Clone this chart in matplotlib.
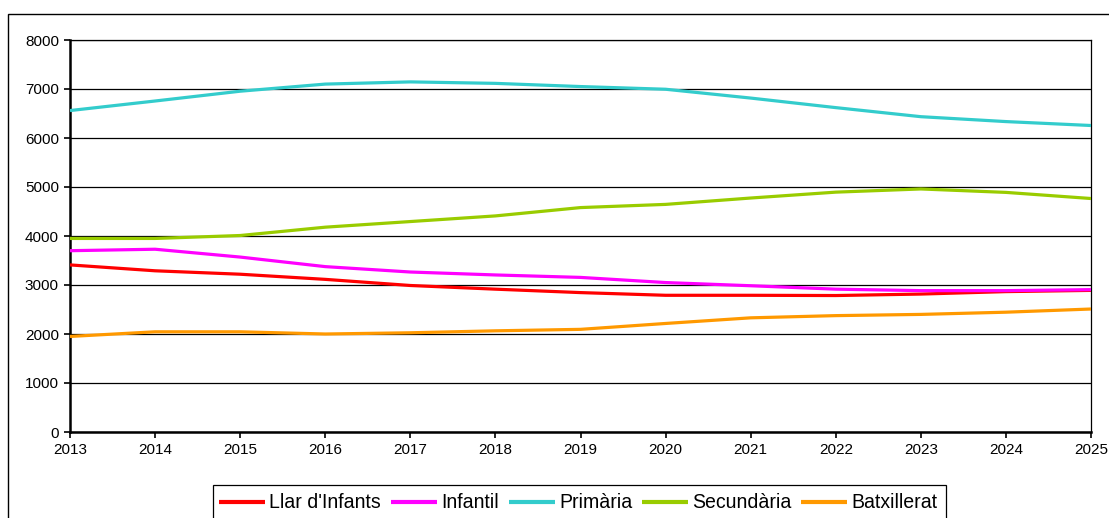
import matplotlib
matplotlib.use("Agg")
import matplotlib.pyplot as plt
from matplotlib.patches import Rectangle

years = list(range(2013, 2026))
llar = [3410, 3290, 3220, 3115, 2990, 2915, 2845, 2790, 2790, 2785, 2815, 2865, 2890]
infantil = [3700, 3730, 3570, 3375, 3265, 3205, 3155, 3050, 2985, 2915, 2885, 2885, 2905]
primaria = [6560, 6755, 6955, 7100, 7145, 7115, 7050, 6995, 6815, 6620, 6435, 6335, 6255]
secundaria = [3950, 3950, 4010, 4180, 4295, 4410, 4580, 4645, 4775, 4895, 4960, 4890, 4765]
batxillerat = [1950, 2045, 2045, 2000, 2025, 2065, 2095, 2215, 2330, 2375, 2400, 2445, 2510]

series = [
    ("Llar d'Infants", llar, "#FF0000"),
    ("Infantil", infantil, "#FF00FF"),
    ("Primària", primaria, "#33CCCC"),
    ("Secundària", secundaria, "#99CC00"),
    ("Batxillerat", batxillerat, "#FF9900"),
]

plt.rcParams['font.family'] = ['Liberation Sans', 'DejaVu Sans']

W, H = 1109, 518
fig = plt.figure(figsize=(W / 100, H / 100), dpi=100)
fig.patch.set_facecolor("white")

# outer chart-area border
fig.patches.append(Rectangle((8 / W, -0.1), 1.2, (H - 14) / H + 0.1,
                             transform=fig.transFigure, fill=False,
                             edgecolor="black", linewidth=1.0))
# legend box (cut off at the bottom, as in the original)
fig.patches.append(Rectangle((213 / W, -0.1), (946 - 213) / W, (H - 485) / H + 0.1,
                             transform=fig.transFigure, fill=False,
                             edgecolor="black", linewidth=0.9))

ax = fig.add_axes([70 / W, (H - 432) / H, (1091 - 70) / W, (432 - 40) / H])
for name, vals, col in series:
    ax.plot(years, vals, color=col, linewidth=2.3, label=name,
            solid_capstyle="butt", zorder=3)

ax.set_xlim(2013, 2025)
ax.set_ylim(0, 8000)
ax.set_yticks(range(0, 8001, 1000))
ax.set_xticks(years)
ax.grid(axis="y", color="black", linewidth=0.9, zorder=1)
ax.set_axisbelow(True)
for s in ["left", "bottom"]:
    ax.spines[s].set_linewidth(1.8)
for s in ["right", "top"]:
    ax.spines[s].set_linewidth(0.9)
ax.tick_params(axis="both", direction="out", length=4, width=1.2,
               labelsize=11, pad=4, colors="black")

leg = fig.legend(loc="center left", bbox_to_anchor=(219 / W, (H - 503) / H),
                 ncol=5, frameon=False,
                 fontsize=14.05, handlelength=2.36, handletextpad=0.22,
                 columnspacing=0.5, borderpad=0, borderaxespad=0)
for line in leg.get_lines():
    line.set_linewidth(3)

fig.savefig("out.png", dpi=100)
